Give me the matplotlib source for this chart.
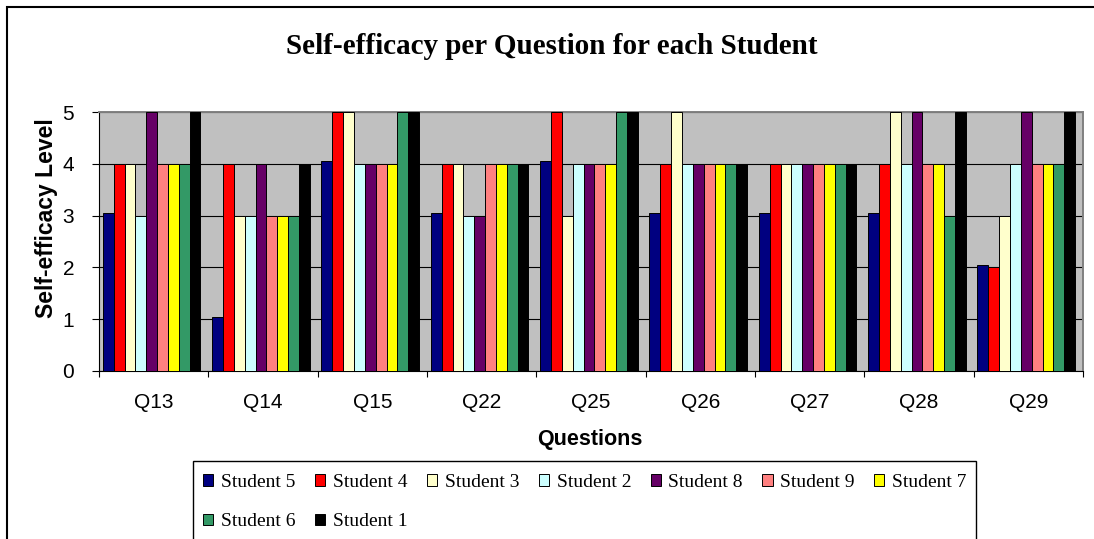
import matplotlib.pyplot as plt
import numpy as np
from matplotlib.patches import Rectangle

questions = ["Q13", "Q14", "Q15", "Q22", "Q25", "Q26", "Q27", "Q28", "Q29"]
students = ["Student 5", "Student 4", "Student 3", "Student 2", "Student 8",
            "Student 9", "Student 7", "Student 6", "Student 1"]
colors = ["#000080", "#FF0000", "#FFFFCC", "#CCFFFF", "#660066",
          "#FF8080", "#FFFF00", "#339966", "#000000"]

student_5 = [3.05, 1.05, 4.05, 3.05, 4.05, 3.05, 3.05, 3.05, 2.05]
student_4 = [4, 4, 5, 4, 5, 4, 4, 4, 2]
student_3 = [4, 3, 5, 4, 3, 5, 4, 5, 3]
student_2 = [3, 3, 4, 3, 4, 4, 4, 4, 4]
student_8 = [5, 4, 4, 3, 4, 4, 4, 5, 5]
student_9 = [4, 3, 4, 4, 4, 4, 4, 4, 4]
student_7 = [4, 3, 4, 4, 4, 4, 4, 4, 4]
student_6 = [4, 3, 5, 4, 5, 4, 4, 3, 4]
student_1 = [5, 4, 5, 4, 5, 4, 4, 5, 5]

series = [student_5, student_4, student_3, student_2, student_8,
          student_9, student_7, student_6, student_1]

W, H = 1094, 539
fig = plt.figure(figsize=(W / 100, H / 100), dpi=100)

def fx(px):
    return px / W

def fy(py):
    return 1 - py / H

ax = fig.add_axes([fx(99), fy(371), fx(1083) - fx(99), fy(112) - fy(371)])
ax.set_facecolor("#C0C0C0")

x = np.arange(len(questions))
bar_w = 0.0992
bars = []
for j, vals in enumerate(series):
    b = ax.bar(x - 0.5 + 0.035 + j * bar_w, vals, width=bar_w, align="edge",
               color=colors[j], edgecolor="black", linewidth=0.7,
               label=students[j], zorder=3)
    bars.append(b)

ax.set_xlim(-0.5, len(questions) - 0.5)
ax.set_ylim(0, 5)
ax.set_yticks(range(6))
ax.yaxis.grid(True, color="black", linewidth=0.8, zorder=1)
ax.set_axisbelow(True)

ax.set_xticks(x)
ax.set_xticklabels(questions, fontsize=15, family="Liberation Sans")
ax.set_xticks(np.arange(len(questions) + 1) - 0.5, minor=True)
ax.tick_params(axis="x", which="major", length=0, pad=16)
ax.tick_params(axis="x", which="minor", length=4.5, width=0.8, direction="out")
ax.tick_params(axis="y", length=5, width=0.8, direction="out", pad=13,
               labelsize=15)
for lab in ax.get_yticklabels():
    lab.set_family("Liberation Sans")

for side in ["left", "bottom"]:
    ax.spines[side].set_color("black")
    ax.spines[side].set_linewidth(0.8)
for side in ["top", "right"]:
    ax.spines[side].set_color("#808080")
    ax.spines[side].set_linewidth(1.4)

fig.text(fx(552), fy(47), "Self-efficacy per Question for each Student",
         ha="center", va="center", fontsize=21, fontweight="bold",
         family="Liberation Serif")
fig.text(fx(590), fy(440), "Questions", ha="center", va="center",
         fontsize=15.5, fontweight="bold", family="Liberation Sans")
fig.text(fx(47), fy(218), "Self-efficacy Level", ha="center", va="center",
         rotation=90, fontsize=16.5, fontweight="bold",
         family="Liberation Sans")

# chart area border and legend box
fig.patches.append(Rectangle((fx(7), fy(560)), fx(1110) - fx(7), fy(7) - fy(560),
                             transform=fig.transFigure, fill=False,
                             edgecolor="black", linewidth=1.5))
fig.patches.append(Rectangle((fx(193), fy(560)), fx(976) - fx(193), fy(461) - fy(560),
                             transform=fig.transFigure, fill=False,
                             edgecolor="black", linewidth=1))

# legend is filled column by column, so reorder to read row by row
order = [0, 7, 1, 8, 2, 3, 4, 5, 6]
leg = fig.legend([bars[i] for i in order], [students[i] for i in order],
                 loc="upper left", bbox_to_anchor=(fx(203), fy(474)),
                 ncol=7, frameon=False, borderaxespad=0, borderpad=0,
                 prop={"family": "Liberation Serif", "size": 14},
                 handlelength=0.52, handleheight=0.52, handletextpad=0.4,
                 columnspacing=1.0, labelspacing=1.15)

fig.savefig("out.png", dpi=100)
